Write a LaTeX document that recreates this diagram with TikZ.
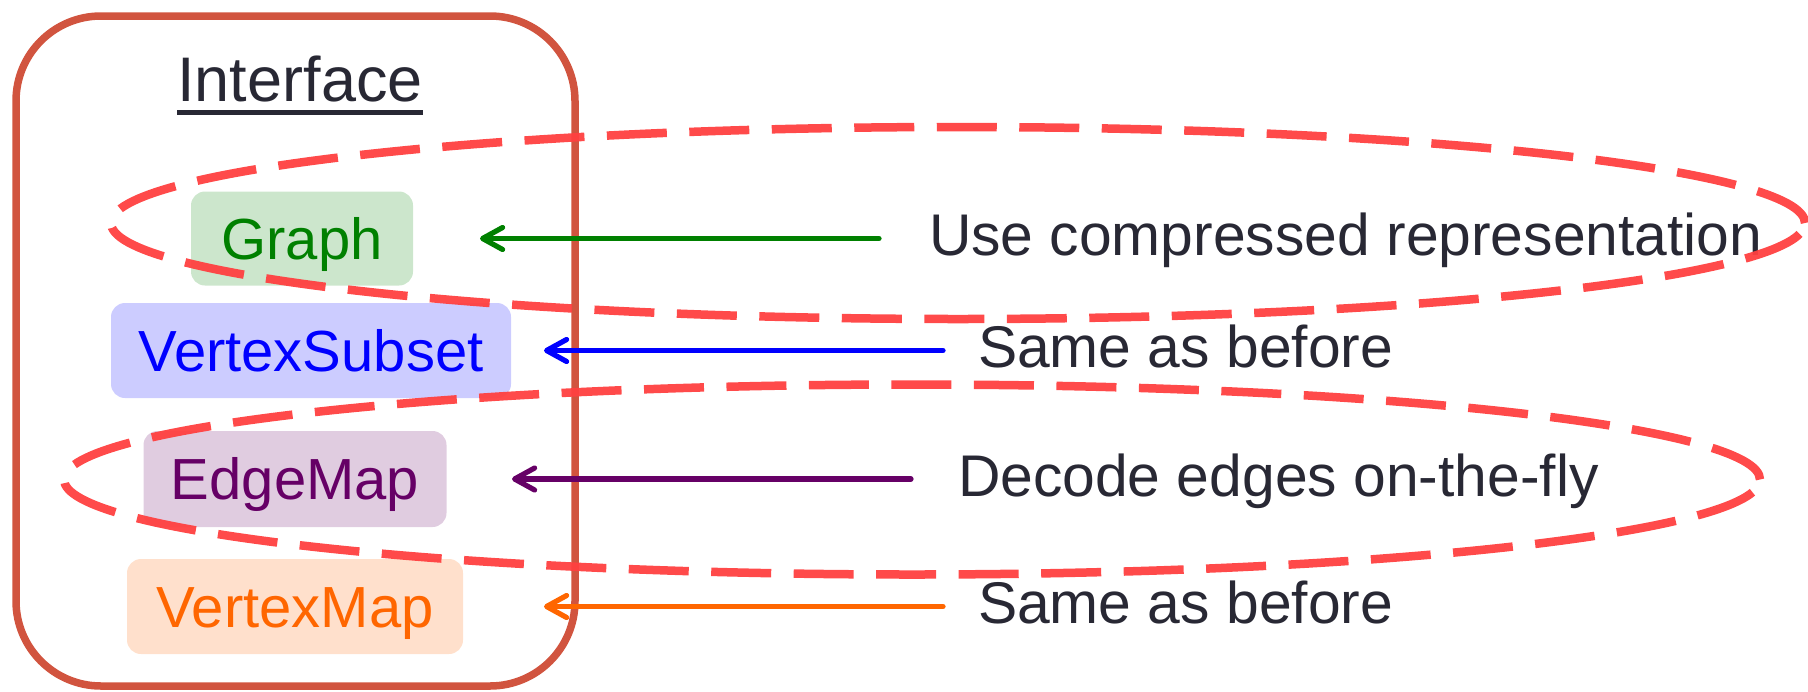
\documentclass[tikz,border=0pt]{standalone}
\usepackage{fontspec}
\setmainfont{Liberation Sans}
\usetikzlibrary{arrows.meta}
\definecolor{framecol}{RGB}{209,84,63}
\definecolor{ink}{RGB}{40,40,52}
\definecolor{gr}{RGB}{0,128,0}
\definecolor{bl}{RGB}{0,0,255}
\definecolor{pu}{RGB}{102,0,102}
\definecolor{org}{RGB}{255,102,0}
\definecolor{ell}{RGB}{255,64,64}
\begin{document}
\begin{tikzpicture}[x=0.5pt,y=-0.5pt,
  boxnode/.style={rounded corners=7pt, inner sep=0pt, outer sep=0pt, text height=26.5pt, text depth=6pt, font=\fontsize{29}{34}\selectfont, anchor=center},
  lab/.style={anchor=west, inner sep=0pt, outer sep=0pt, text height=23pt, text depth=6pt, font=\fontsize{29.4}{34}\selectfont, text=ink},
  arr/.style={line width=2.6pt, line cap=round, -{Straight Barb[length=10pt,width=11pt,round]}},
  ringpath/.style={draw=ell, line width=4.25pt, dash pattern=on 30pt off 11.25pt, opacity=0.95}]
\useasboundingbox (0,0) rectangle (1808,691);
% outer frame
\node[draw=framecol, line width=3.75pt, rounded corners=42.5pt, minimum width=279.5pt, minimum height=335pt, inner sep=0pt] (frame) at (295.5,351) {};
% title
\node[anchor=base, inner sep=0pt, font=\fontsize{31.5}{36}\selectfont, text=ink] (title) at (300,101.5) {Interface};
\draw[ink, line width=2.25pt] ([yshift=-5.5pt]title.base west) -- ([yshift=-5.5pt]title.base east);
% boxes
\node[boxnode, fill=gr!20, text=gr, minimum width=111pt, minimum height=47pt] (graph) at (302,238.5) {Graph};
\node[boxnode, fill=bl!20, text=bl, minimum width=200pt, minimum height=47.5pt] (vsub) at (311,350.5) {VertexSubset};
\node[boxnode, fill=pu!20, text=pu, minimum width=151.5pt, minimum height=48pt] (emap) at (295,479) {EdgeMap};
\node[boxnode, fill=org!20, text=org, minimum width=168pt, minimum height=47.5pt] (vmap) at (295,606.5) {VertexMap};
% labels
\node[lab] (lab1) at (929,238.5) {Use compressed representation};
\node[lab] (lab2) at (978,350.5) {Same as before};
\node[lab] (lab3) at (958,479) {Decode edges on-the-fly};
\node[lab] (lab4) at (978,606.5) {Same as before};
% arrows
\draw[arr, gr] ([xshift=-25pt]lab1.west) -- ([xshift=33.5pt]graph.east);
\draw[arr, bl] ([xshift=-17.5pt]lab2.west) -- ([xshift=16.5pt]vsub.east);
\draw[arr, pu] ([xshift=-23.5pt]lab3.west) -- ([xshift=32.75pt]emap.east);
\draw[arr, org] ([xshift=-17.5pt]lab4.west) -- ([xshift=40.5pt]vmap.east);
% dashed ellipses
\draw[ringpath] (958,223) ellipse [x radius=423.5pt, y radius=48pt];
\draw[ringpath] (912,479.5) ellipse [x radius=424pt, y radius=47.5pt];
\end{tikzpicture}
\end{document}
